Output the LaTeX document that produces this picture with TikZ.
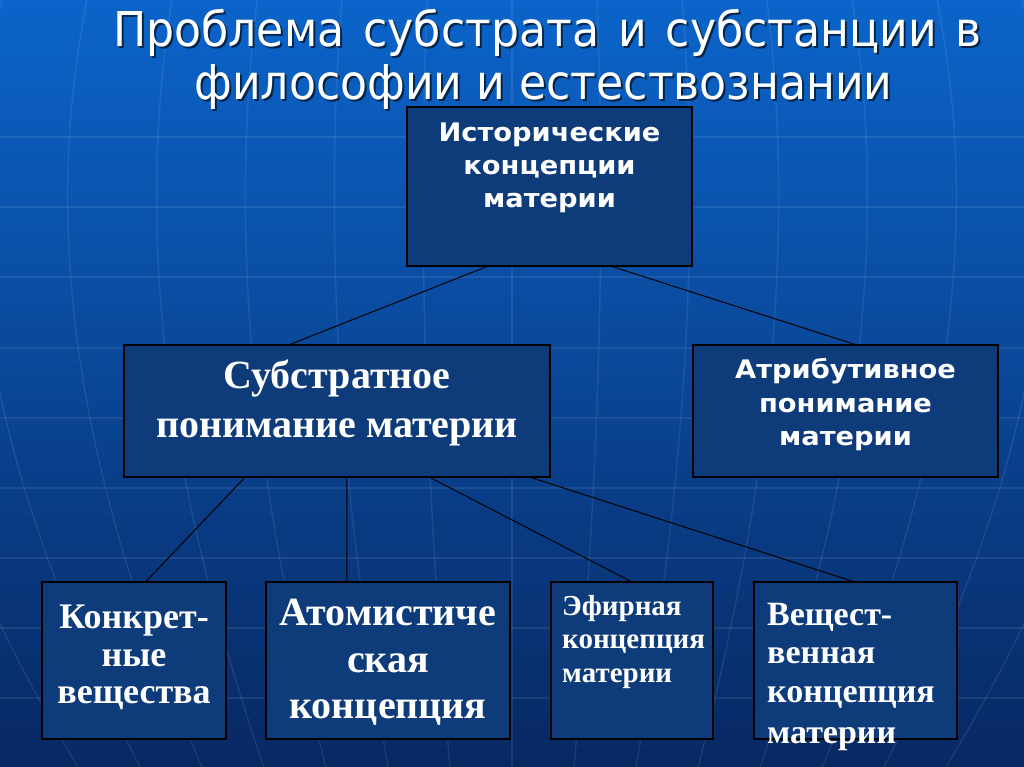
\documentclass[tikz,border=0pt]{standalone}
\usepackage{fontspec}
\setmainfont{Liberation Serif}
\newfontfamily\titlefont[FakeStretch=0.92]{DejaVu Sans}
\newfontfamily\hdfont[FakeStretch=1.07]{DejaVu Sans}
\usetikzlibrary{calc}
\definecolor{bgtop}{RGB}{11,100,202}
\definecolor{bgmid}{RGB}{12,72,155}
\definecolor{bgbot}{RGB}{8,40,98}
\definecolor{boxblue}{RGB}{14,60,122}
\begin{document}
\begin{tikzpicture}[x=1pt,y=-1pt,
  box/.style={draw=black, line width=1.1pt, fill=boxblue, inner sep=0pt},
  conn/.style={draw=black, line width=1pt},
  grid/.style={draw=white, opacity=0.08, line width=1.5pt},
  ttl/.style={text=white, inner sep=0pt, anchor=base, font=\titlefont\fontsize{48}{50}\selectfont},
  ttlsh/.style={text=black, opacity=0.6, inner sep=0pt, anchor=base, font=\titlefont\fontsize{48}{50}\selectfont},
  hd/.style={text=white, inner sep=0pt, anchor=base, font=\hdfont\bfseries\fontsize{25.5}{28}\selectfont},
  tb/.style={text=white, inner sep=0pt, anchor=base, font=\bfseries\fontsize{#1}{#1}\selectfont},
  tbl/.style={text=white, inner sep=0pt, anchor=base west, font=\bfseries\fontsize{#1}{#1}\selectfont}
]
\useasboundingbox (0,0) rectangle (1024,767);
% background
\shade[top color=bgtop, middle color=bgmid, bottom color=bgbot] (0,0) rectangle (1024,767);
% grid lines
\foreach \yy in {137,207,277,348,418,488,558,628,698}
  \draw[grid] (0,\yy) -- (1024,\yy);
\foreach \i in {-7,...,7}
  \draw[grid] (512+\i*85,0) .. controls (512+\i*95,250) and (512+\i*85,500) .. (512+\i*62,767);

% title
\node[ttlsh] (t1s) at (549.5,49) {\spaceskip=19pt Проблема субстрата и субстанции в};
\node[ttl] (t1) at (547.5,47) {\spaceskip=19pt Проблема субстрата и субстанции в};
\node[ttlsh] (t2s) at (545.5,102) {философии и естествознании};
\node[ttl] (t2) at (543.5,100) {философии и естествознании};

% boxes
\node[box, minimum width=285pt, minimum height=159pt] (A) at (549.5,186.5) {};
\node[box, minimum width=426pt, minimum height=132pt] (B) at (337,411) {};
\node[box, minimum width=305pt, minimum height=132pt] (C) at (845.5,411) {};
\node[box, minimum width=184pt, minimum height=157pt] (D1) at (134,660.5) {};
\node[box, minimum width=244pt, minimum height=157pt] (D2) at (388,660.5) {};
\node[box, minimum width=162pt, minimum height=157pt] (D3) at (632,660.5) {};
\node[box, minimum width=203pt, minimum height=157pt] (D4) at (855.5,660.5) {};

% connectors
\draw[conn] ($(A.south west)!0.281!(A.south east)$) -- ($(B.north west)!0.39!(B.north east)$);
\draw[conn] ($(A.south west)!0.719!(A.south east)$) -- ($(C.north west)!0.531!(C.north east)$);
\draw[conn] ($(B.south west)!0.284!(B.south east)$) -- ($(D1.north west)!0.565!(D1.north east)$);
\draw[conn] ($(B.south west)!0.523!(B.south east)$) -- ($(D2.north west)!0.332!(D2.north east)$);
\draw[conn] ($(B.south west)!0.718!(B.south east)$) -- ($(D3.north west)!0.494!(D3.north east)$);
\draw[conn] ($(B.south west)!0.955!(B.south east)$) -- ($(D4.north west)!0.488!(D4.north east)$);

% box A text
\node[hd] (a1) at (549.5,142) {Исторические};
\node[hd] (a2) at (549.5,175) {концепции};
\node[hd] (a3) at (549.5,208) {материи};
% box C text
\node[hd] (c1) at (845.5,378) {Атрибутивное};
\node[hd] (c2) at (845.5,412) {понимание};
\node[hd] (c3) at (845.5,445) {материи};
% box B text
\node[tb=40] (b1) at (337,388) {Субстратное};
\node[tb=40] (b2) at (337,437) {понимание материи};
% bottom boxes
\node[tb=36] (d11) at (134,628) {Конкрет-};
\node[tb=36] (d12) at (134,666) {ные};
\node[tb=36] (d13) at (134,703) {вещества};
\node[tb=40] (d21) at (388,625) {Атомистиче};
\node[tb=40] (d22) at (388,672) {ская};
\node[tb=40] (d23) at (388,718) {концепция};
\node[tbl=29] (d31) at (562,615) {Эфирная};
\node[tbl=29] (d32) at (562,648) {концепция};
\node[tbl=29] (d33) at (562,682) {материи};
\node[tbl=34] (d41) at (767,625) {Вещест-};
\node[tbl=34] (d42) at (767,663) {венная};
\node[tbl=34] (d43) at (767,702) {концепция};
\node[tbl=34] (d44) at (767,743) {материи};
\end{tikzpicture}
\end{document}
